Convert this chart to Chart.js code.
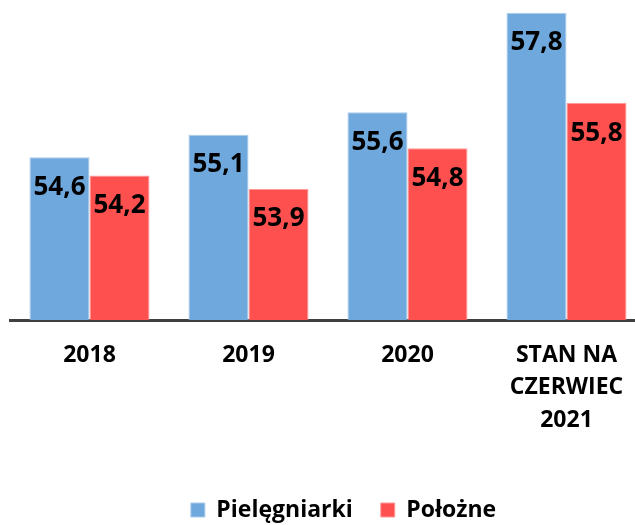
<!DOCTYPE html>
<html>
<head>
<meta charset="utf-8">
<script src="https://cdn.jsdelivr.net/npm/chart.js@4"></script>
<style>
html,body{margin:0;padding:0;overflow:hidden;background:#fff;width:635px;height:525px;}
canvas{display:block;}
</style>
</head>
<body>
<canvas id="c" width="677" height="525"></canvas>
<script>
const categories = [["2018"], ["2019"], ["2020"], ["STAN NA", "CZERWIEC", "2021"]];
const nurses = [54.6, 55.1, 55.6, 57.8];
const midwives = [54.2, 53.9, 54.8, 55.8];
const seriesNames = ["Pielęgniarki", "Położne"];

const FONT = "'Open Sans', 'DejaVu Sans', sans-serif";

const valueLabels = {
  id: 'valueLabels',
  afterDatasetsDraw(chart) {
    const ctx = chart.ctx;
    ctx.save();
    ctx.font = "bold 26px " + FONT;
    ctx.fillStyle = '#000';
    ctx.textAlign = 'center';
    ctx.textBaseline = 'middle';
    chart.data.datasets.forEach((ds, i) => {
      const meta = chart.getDatasetMeta(i);
      meta.data.forEach((bar, j) => {
        const txt = ds.data[j].toFixed(1).replace('.', ',');
        ctx.fillText(txt, bar.x, bar.y + 30);
      });
    });
    ctx.restore();
  }
};

new Chart(document.getElementById('c'), {
  type: 'bar',
  data: {
    labels: categories,
    datasets: [
      { label: seriesNames[0], data: nurses, backgroundColor: '#6FA8DC', borderColor: '#A9CBEB', borderWidth: 1,
        categoryPercentage: 0.755, barPercentage: 1.0 },
      { label: seriesNames[1], data: midwives, backgroundColor: '#FF5050', borderColor: '#FF9A9A', borderWidth: 1,
        categoryPercentage: 0.755, barPercentage: 1.0 }
    ]
  },
  options: {
    responsive: false,
    animation: false,
    devicePixelRatio: 1,
    layout: { padding: { left: 10, right: 0, top: 3.7, bottom: -6.5 } },
    plugins: {
      tooltip: { enabled: false },
      legend: {
        position: 'bottom',
        labels: {
          boxWidth: 14, boxHeight: 14, padding: 28, color: '#000',
          font: { family: FONT, size: 23, weight: 'bold' }
        }
      }
    },
    scales: {
      x: {
        grid: { display: false, drawTicks: false },
        border: { display: true, color: '#404040', width: 3 },
        ticks: {
          color: '#000', padding: 19, maxRotation: 0, autoSkip: false,
          font: { family: FONT, size: 23, weight: 'bold', lineHeight: '32.5px' }
        },
        afterFit(s) { s.height = 150.5; }
      },
      y: {
        position: 'right',
        min: 51, max: 58,
        grid: { display: false, drawTicks: false },
        border: { display: false },
        ticks: { display: false },
        afterFit(s) { s.width = 31; }
      }
    }
  },
  plugins: [valueLabels]
});
</script>
</body>
</html>
